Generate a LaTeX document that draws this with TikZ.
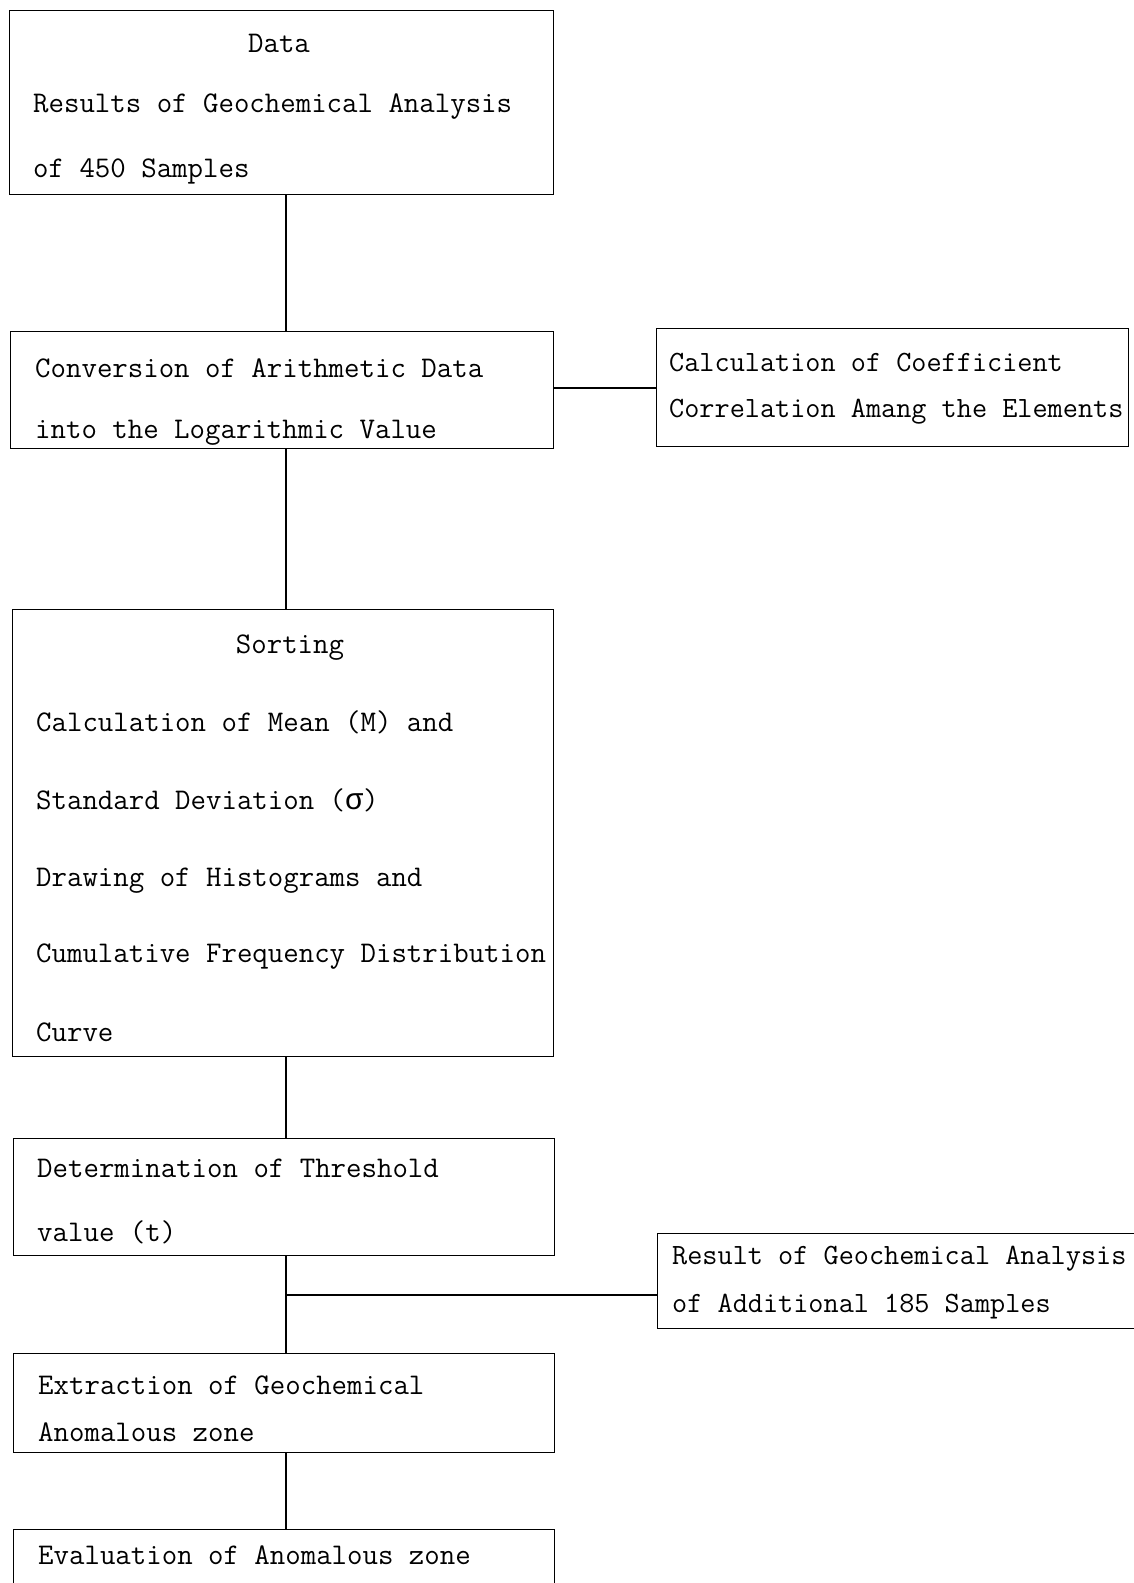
\documentclass[tikz,border=0pt]{standalone}
\usepackage{fontspec}
\newfontfamily\greekmono{Liberation Mono}
\begin{document}
\begin{tikzpicture}[x=1pt,y=-1pt,
  box/.style={draw, line width=1.4pt, rectangle, inner sep=0pt, anchor=north west},
  txt/.style={inner sep=0pt, anchor=base west, font=\fontsize{30}{36}\selectfont\ttfamily},
  rtxt/.style={txt, font=\fontsize{29.4}{36}\selectfont\ttfamily},
  ctxt/.style={txt, anchor=base},
  link/.style={line width=1.7pt}]
\clip (0,0) rectangle (1134,1583);
\fill[white] (0,0) rectangle (1134,1583);
% boxes
\node[box, minimum width=544pt, minimum height=184pt] (b1) at (9,10) {};
\node[box, minimum width=543pt, minimum height=117pt] (b2) at (10,331) {};
\node[box, minimum width=472pt, minimum height=118pt] (b3) at (656,328) {};
\node[box, minimum width=541pt, minimum height=447pt] (b4) at (12,609) {};
\node[box, minimum width=541pt, minimum height=117pt] (b5) at (13,1138) {};
\node[box, minimum width=480pt, minimum height=95pt] (b6) at (657,1233) {};
\node[box, minimum width=541pt, minimum height=99pt] (b7) at (13,1353) {};
\node[box, minimum width=541pt, minimum height=120pt] (b8) at (13,1529) {};
% texts
\node[ctxt] (t1a) at (279,52) {Data};
\node[txt] (t1b) at (33,112) {Results of Geochemical Analysis};
\node[txt] (t1c) at (33,177) {of 450 Samples};
\node[txt] (t2a) at (35,377) {Conversion of Arithmetic Data};
\node[txt] (t2b) at (35,438) {into the Logarithmic Value};
\node[rtxt] (t3a) at (669,371) {Calculation of Coefficient};
\node[rtxt] (t3b) at (669,417) {Correlation Amang the Elements};
\node[ctxt] (t4a) at (290,653) {Sorting};
\node[txt] (t4b) at (36,731) {Calculation of Mean (M) and};
\node[txt] (t4c) at (36,809) {Standard Deviation ({\greekmono σ})};
\node[txt] (t4d) at (36,886) {Drawing of Histograms and};
\node[txt] (t4e) at (36,962) {Cumulative Frequency Distribution};
\node[txt] (t4f) at (36,1041) {Curve};
\node[txt] (t5a) at (37,1177) {Determination of Threshold};
\node[txt] (t5b) at (37,1241) {value (t)};
\node[rtxt] (t6a) at (672,1264) {Result of Geochemical Analysis};
\node[rtxt] (t6b) at (672,1312) {of Additional 185 Samples};
\node[txt] (t7a) at (38,1394) {Extraction of Geochemical};
\node[txt] (t7b) at (38,1441) {Anomalous zone};
\node[txt] (t8a) at (38,1564) {Evaluation of Anomalous zone};
% connectors
\coordinate (vx) at (286,0);
\coordinate (j) at (286,1295);
\draw[link] (b1.south -| vx) -- (b2.north -| vx);
\draw[link] (b2.south -| vx) -- (b4.north -| vx);
\draw[link] (b4.south -| vx) -- (b5.north -| vx);
\draw[link] (b5.south -| vx) -- (b7.north -| vx);
\draw[link] (b7.south -| vx) -- (b8.north -| vx);
\draw[link] (b3.west -| b2.east) -- (b3.west);
\draw[link] (j) -- (j -| b6.west);
\end{tikzpicture}
\end{document}
